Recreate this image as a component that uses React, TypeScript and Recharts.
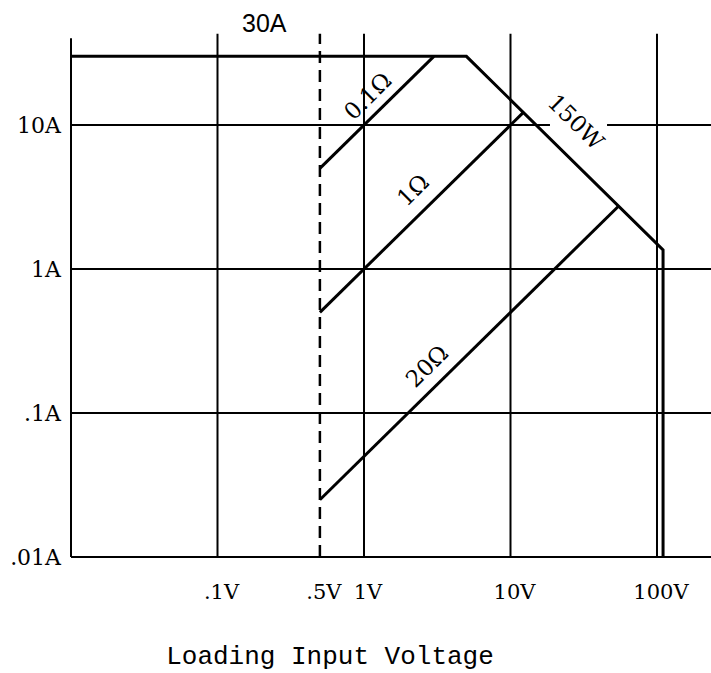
import React from 'react';
import { LineChart, Line, XAxis, YAxis, ReferenceLine, ReferenceDot } from 'recharts';

// axis ticks (log-log)
const xTickValues = [0.1, 0.5, 1, 10, 100];
const xTickLabels = ['.1V', '.5V', '1V', '10V', '100V'];
const yTickValues = [0.01, 0.1, 1, 10];
const yTickLabels = ['.01A', '.1A', '1A', '10A'];

// vertical grid lines (volts) and horizontal ones (amps)
const gridVolts = [0.01, 0.1, 1, 10, 100];
const gridAmps = [0.01, 0.1, 1, 10];

// operating envelope: 30A limit, 150W limit, voltage limit
const limitVolts = [0.01, 5, 110, 110];
const limitAmps = [30, 30, 1.36, 0.01];

// constant resistance lines
const r01Volts = [0.5, 3];
const r01Amps = [5, 30];
const r1Volts = [0.5, 12.2];
const r1Amps = [0.5, 12.2];
const r20Volts = [0.5, 54.8];
const r20Amps = [0.025, 2.74];

// minimum loading voltage (dashed)
const minVolts = 0.5;

// curve labels
const curveLabels = ['0.1Ω', '1Ω', '20Ω', '150W'];
const curveLabelVolts = [1.06, 2.16, 2.69, 28];
const curveLabelAmps = [15.9, 3.54, 0.212, 10.5];
const curveLabelAngles = [-44.5, -44.5, -44.5, 44.5];

const X_MAX = 233.7;
const Y_MAX = 45;
const W = 711;
const H = 673;

const serif = '"DejaVu Serif", serif';

const toPoints = (volts: number[], amps: number[]) => volts.map((v, i) => ({ v, a: amps[i] }));

const XTick = (props: any) => {
    const { x, payload } = props;
    const idx = xTickValues.indexOf(payload.value);
    return (
        <text x={x + 4} y={599} textAnchor="middle" fontFamily={serif} fontSize={21} fill="#000">
            {idx >= 0 ? xTickLabels[idx] : ''}
        </text>
    );
};

const YTick = (props: any) => {
    const { y, payload } = props;
    const idx = yTickValues.indexOf(payload.value);
    return (
        <text x={61} y={y + 8} textAnchor="end" fontFamily={serif} fontSize={22} fill="#000">
            {idx >= 0 ? yTickLabels[idx] : ''}
        </text>
    );
};

export default function App() {
    const lines = [
        toPoints(limitVolts, limitAmps),
        toPoints(r01Volts, r01Amps),
        toPoints(r1Volts, r1Amps),
        toPoints(r20Volts, r20Amps),
    ];

    return (
        <div style={{ position: 'absolute', left: 0, top: 0, width: W, height: H, background: '#fff' }}>
            <LineChart width={W} height={H} margin={{ top: 31, right: 0, left: 0, bottom: 0 }}>
                <XAxis
                    dataKey="v"
                    type="number"
                    scale="log"
                    domain={[0.01, X_MAX]}
                    allowDataOverflow
                    ticks={xTickValues}
                    interval={0}
                    tick={<XTick />}
                    axisLine={false}
                    tickLine={false}
                    height={116}
                />
                <YAxis
                    dataKey="a"
                    type="number"
                    scale="log"
                    domain={[0.01, Y_MAX]}
                    allowDataOverflow
                    ticks={yTickValues}
                    interval={0}
                    tick={<YTick />}
                    axisLine={false}
                    tickLine={false}
                    width={71}
                />

                {/* grid */}
                {gridVolts.map((v, i) => (
                    <ReferenceLine
                        key={'gv' + v}
                        segment={[{ x: v, y: 0.01 }, { x: v, y: i === 0 ? 40 : 43 }]}
                        stroke="#000"
                        strokeWidth={2}
                    />
                ))}
                {gridAmps.map(a =>
                    a === 10 ? (
                        <React.Fragment key={'ga' + a}>
                            <ReferenceLine segment={[{ x: 0.01, y: a }, { x: 18.6, y: a }]} stroke="#000" strokeWidth={2} />
                            <ReferenceLine segment={[{ x: 45.6, y: a }, { x: X_MAX, y: a }]} stroke="#000" strokeWidth={2} />
                        </React.Fragment>
                    ) : (
                        <ReferenceLine key={'ga' + a} segment={[{ x: 0.01, y: a }, { x: X_MAX, y: a }]} stroke="#000" strokeWidth={2} />
                    )
                )}
                <ReferenceLine
                    segment={[{ x: minVolts, y: 0.01 }, { x: minVolts, y: 43 }]}
                    stroke="#000"
                    strokeWidth={2.5}
                    strokeDasharray="12 7"
                />

                {lines.map((pts, i) => (
                    <Line
                        key={'l' + i}
                        data={pts}
                        dataKey="a"
                        type="linear"
                        stroke="#000"
                        strokeWidth={3}
                        dot={false}
                        activeDot={false}
                        isAnimationActive={false}
                    />
                ))}

                {curveLabels.map((txt, i) => (
                    <ReferenceDot
                        key={'lbl' + i}
                        x={curveLabelVolts[i]}
                        y={curveLabelAmps[i]}
                        r={0}
                        shape={(p: any) => (
                            <text
                                x={p.cx}
                                y={p.cy}
                                transform={`rotate(${curveLabelAngles[i]} ${p.cx} ${p.cy})`}
                                textAnchor="middle"
                                dominantBaseline="central"
                                fontFamily={serif}
                                fontSize={23}
                                fill="#000"
                            >
                                {txt}
                            </text>
                        )}
                    />
                ))}
            </LineChart>
            <svg width={W} height={H} style={{ position: 'absolute', left: 0, top: 0, pointerEvents: 'none' }}>
                <text x={242} y={32} fontFamily='"Liberation Sans", Arial, sans-serif' fontSize={25} fill="#000">
                    30A
                </text>
                <text x={330} y={664} textAnchor="middle" fontFamily='"Liberation Mono", monospace' fontSize={26} fill="#000">
                    Loading Input Voltage
                </text>
            </svg>
        </div>
    );
}
